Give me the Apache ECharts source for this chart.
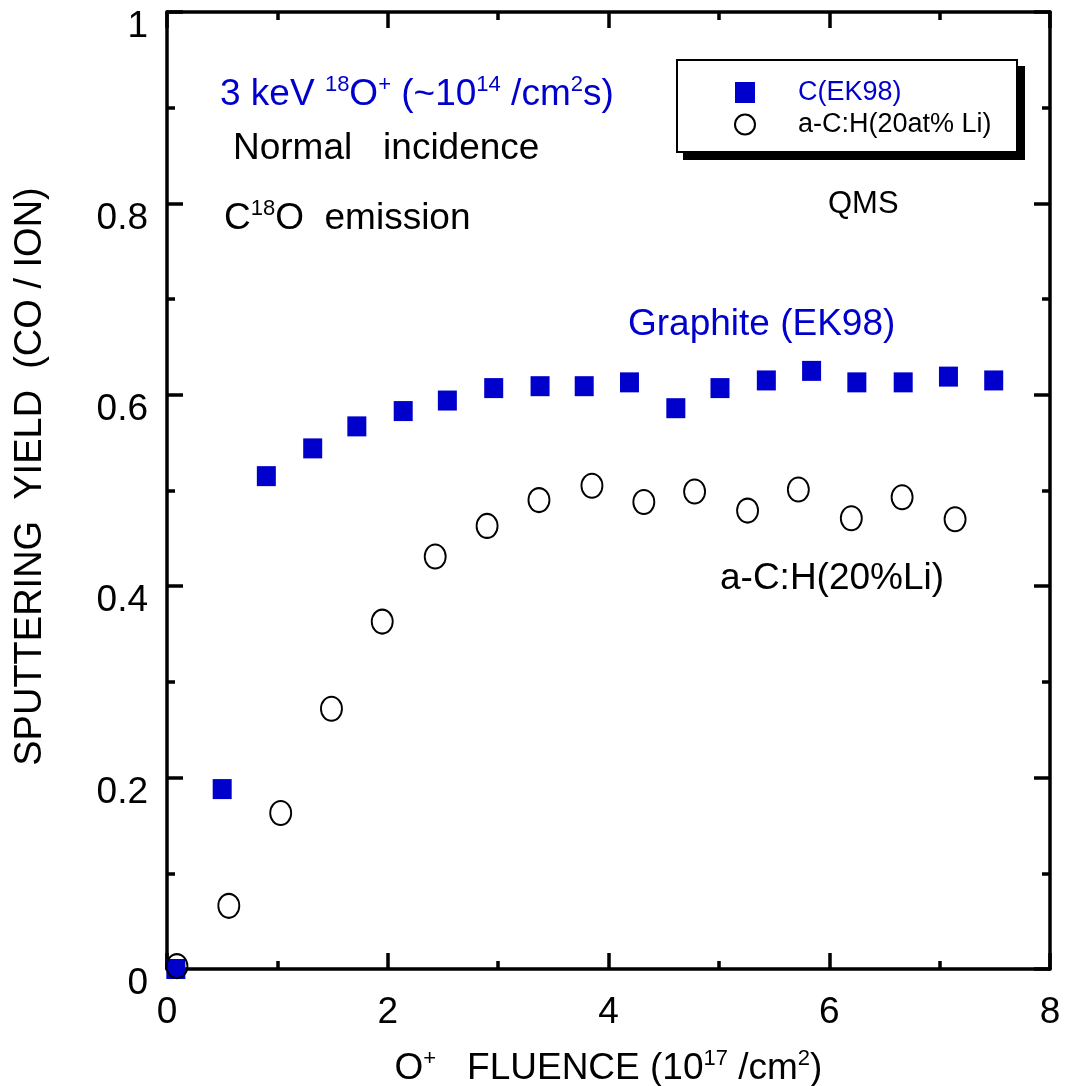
<!DOCTYPE html>
<html><head><meta charset="utf-8">
<script src="https://cdn.jsdelivr.net/npm/echarts@6/dist/echarts.min.js"></script>
<style>html,body{margin:0;padding:0;background:#fff}#c{width:1071px;height:1086px}</style>
</head><body><div id="c"></div>
<script>
var graphiteX = [0.08, 0.50, 0.90, 1.32, 1.72, 2.14, 2.54, 2.96, 3.38, 3.78, 4.19, 4.61, 5.01, 5.43, 5.84, 6.25, 6.67, 7.08, 7.49];
var graphiteY = [0.0, 0.188, 0.515, 0.544, 0.567, 0.583, 0.594, 0.607, 0.609, 0.609, 0.613, 0.586, 0.607, 0.615, 0.625, 0.613, 0.613, 0.619, 0.615];
var acX = [0.09, 0.56, 1.03, 1.49, 1.95, 2.43, 2.90, 3.37, 3.85, 4.32, 4.78, 5.26, 5.72, 6.20, 6.66, 7.14];
var acY = [0.003, 0.066, 0.163, 0.272, 0.363, 0.431, 0.463, 0.490, 0.505, 0.488, 0.499, 0.479, 0.501, 0.471, 0.493, 0.470];
var xTicks = [0, 2, 4, 6, 8];
var yTicks = [0, 0.2, 0.4, 0.6, 0.8, 1];
var seriesNames = ['C(EK98)', 'a-C:H(20at% Li)'];

var FONT = '"Liberation Sans", Arial, sans-serif';
var BLUE = '#0000CC';
function pairs(xs, ys) { return xs.map(function (x, i) { return [x, ys[i]]; }); }

var chart = echarts.init(document.getElementById('c'), null, { renderer: 'canvas' });
var axisCommon = {
  type: 'value',
  axisLine: { show: true, onZero: false, lineStyle: { color: '#000', width: 3.5 } },
  axisTick: { show: true, inside: true, length: 16, lineStyle: { color: '#000', width: 3.5 } },
  minorTick: { show: true, splitNumber: 2, length: 8, lineStyle: { color: '#000', width: 3.5 } },
  splitLine: { show: false }
};
function mk(extra) { return Object.assign({}, JSON.parse(JSON.stringify(axisCommon)), extra); }

var sup = { fontSize: 22, fontFamily: FONT, verticalAlign: 'top', lineHeight: 22 };
var option = {
  animation: false,
  backgroundColor: '#fff',
  grid: { left: 167, right: 21, top: 12, bottom: 117, containLabel: false, outerBoundsMode: 'none' },
  xAxis: [
    mk({ position: 'bottom', min: xTicks[0], max: xTicks[xTicks.length - 1], interval: 2,
      axisLabel: { color: '#000', fontSize: 37, fontFamily: FONT, margin: 25 },
      name: '{n|O}{s|+}{n|   FLUENCE (10}{s|17}{n| /cm}{s|2}{n|)}',
      nameLocation: 'middle', nameGap: 79,
      nameTextStyle: { rich: { n: { fontSize: 37, fontFamily: FONT, color: '#000', lineHeight: 42 }, s: Object.assign({}, sup, { color: '#000' }) } }
    }),
    mk({ position: 'top', min: 0, max: 8, interval: 2, axisLabel: { show: false } })
  ],
  yAxis: [
    mk({ position: 'left', min: yTicks[0], max: yTicks[yTicks.length - 1], interval: 0.2,
      axisLabel: { color: '#000', fontSize: 37, fontFamily: FONT, margin: 19, verticalAlign: 'top', lineHeight: 30 },
      name: 'SPUTTERING  YIELD  (CO / ION)', nameLocation: 'middle', nameGap: 117, nameRotate: 90,
      nameTextStyle: { color: '#000', fontSize: 38, fontFamily: FONT, padding: [0, 0, 0, 28] }
    }),
    mk({ position: 'right', min: 0, max: 1, interval: 0.2, axisLabel: { show: false } })
  ],
  legend: {
    orient: 'vertical', left: 734, top: 79, itemWidth: 20, itemHeight: 21, itemGap: 5, padding: 0, z: 10,
    textStyle: { fontSize: 27, fontFamily: FONT, padding: [0, 0, 0, 38] },
    data: [
      { name: seriesNames[0], textStyle: { color: BLUE } },
      { name: seriesNames[1], textStyle: { color: '#000' } }
    ]
  },
  graphic: [
    { type: 'rect', z: 1, shape: { x: 684, y: 67, width: 340, height: 92 },
      style: { fill: '#000', stroke: '#000', lineWidth: 2 } },
    { type: 'rect', z: 2, shape: { x: 677, y: 60, width: 340, height: 92 },
      style: { fill: '#fff', stroke: '#000', lineWidth: 2 } },
    { type: 'text', left: 220, top: 74, z: 5,
      style: { text: '{n|3 keV }{s|18}{n|O}{s|+}{n| (~10}{s|14}{n| /cm}{s|2}{n|s)}',
        rich: { n: { fontSize: 37, fontFamily: FONT, fill: BLUE, lineHeight: 42 }, s: Object.assign({}, sup, { fill: BLUE }) } } },
    { type: 'text', left: 233, top: 130, z: 5,
      style: { text: 'Normal   incidence', fontSize: 37, fontFamily: FONT, fill: '#000' } },
    { type: 'text', left: 224, top: 198, z: 5,
      style: { text: '{n|C}{s|18}{n|O  emission}',
        rich: { n: { fontSize: 37, fontFamily: FONT, fill: '#000', lineHeight: 42 }, s: Object.assign({}, sup, { fill: '#000' }) } } },
    { type: 'text', left: 828, top: 189, z: 5,
      style: { text: 'QMS', fontSize: 31, fontFamily: FONT, fill: '#000' } },
    { type: 'text', left: 628, top: 306, z: 5,
      style: { text: 'Graphite (EK98)', fontSize: 37, fontFamily: FONT, fill: BLUE } },
    { type: 'text', left: 720, top: 560, z: 5,
      style: { text: 'a-C:H(20%Li)', fontSize: 37, fontFamily: FONT, fill: '#000' } }
  ],
  series: [
    { name: seriesNames[0], type: 'scatter', clip: false, symbol: 'rect', symbolSize: [19, 20],
      itemStyle: { color: BLUE, opacity: 1 }, data: pairs(graphiteX, graphiteY), z: 3 },
    { name: seriesNames[1], type: 'scatter', clip: false, symbol: 'circle', symbolSize: [21, 24],
      itemStyle: { color: 'rgba(0,0,0,0)', borderColor: '#000', borderWidth: 2, opacity: 1 }, data: pairs(acX, acY), z: 4 }
  ]
};
chart.setOption(option);
</script></body></html>
